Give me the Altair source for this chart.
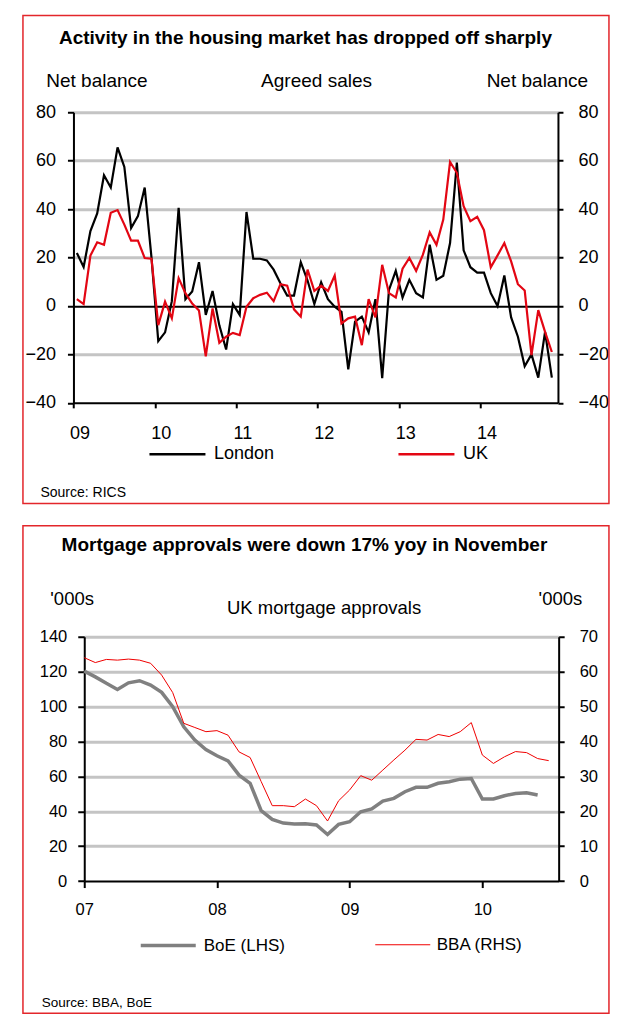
import altair as alt
import pandas as pd

# ---------------- data ----------------
# RICS agreed sales, net balance, monthly Jan 2009 - Nov 2014
london = [21.9, 16.1, 30.9, 38.2, 54.0, 48.9, 65.5, 57.4, 32.2, 37.1,
          48.9, 20.0, -14.5, -10.9, 2.0, 40.5, 2.8, 6.0, 18.1, -3.7,
          6.2, -8.0, -18.0, 0.8, -3.7, 38.8, 19.5, 19.5, 18.8, 15.0,
          9.4, 4.3, 4.3, 18.1, 10.5, 0.8, 9.8, 2.8, -0.3, -2.4,
          -26.2, -6.5, -4.4, -10.9, 2.8, -29.8, 6.6, 14.5, 3.5, 10.8,
          5.3, 3.5, 25.3, 10.8, 12.5, 26.0, 59.2, 23.0, 16.0, 13.8,
          13.8, 5.3, 0.0, 12.6, -4.7, -12.7, -24.9, -20.0, -29.6, -10.7, -29.6]
uk = [2.8, 0.8, 20.8, 26.3, 25.3, 38.5, 39.6, 33.6, 27.0, 27.0,
      19.8, 19.5, -7.9, 1.8, -5.1, 11.5, 5.3, 1.0, -1.9, -20.8,
      -1.0, -15.2, -12.7, -11.1, -12.0, -0.3, 3.2, 4.6, 5.5, 2.0,
      9.0, 8.4, -1.4, -4.4, 15.0, 6.2, 8.4, 6.2, 12.6, -7.2,
      -5.1, -4.4, -16.2, 2.8, -4.7, 17.0, 5.3, 3.5, 15.4, 19.8,
      14.5, 21.2, 30.4, 25.3, 35.7, 59.5, 55.0, 41.2, 35.0, 36.8,
      31.3, 16.0, 20.9, 26.0, 18.4, 9.0, 6.4, -20.3, -1.7, -10.7, -19.0]
top_series = ["London", "UK"]
top_years = ["09", "10", "11", "12", "13", "14"]

# UK mortgage approvals ('000s), monthly from Jan 2007
boe = [120.3, 117.0, 113.3, 109.8, 113.6, 114.8, 112.3, 108.1, 99.9, 88.4,
       80.8, 75.4, 71.8, 68.9, 60.7, 56.0, 40.3, 35.3, 33.2, 32.7,
       32.8, 32.1, 26.7, 32.5, 34.0, 39.7, 41.3, 45.8, 47.4, 51.2,
       53.7, 53.7, 56.0, 56.9, 58.4, 58.8, 47.0, 47.0, 48.9, 50.2,
       50.6, 49.3]
bba = [64.0, 62.6, 63.5, 63.3, 63.6, 63.3, 62.4, 59.0, 54.0, 45.2,
       44.0, 42.8, 43.1, 41.8, 37.0, 35.4, 28.5, 21.6, 21.6, 21.3,
       23.5, 21.6, 17.2, 23.0, 26.1, 30.2, 28.9, 31.8, 34.7, 37.5,
       40.6, 40.4, 42.0, 41.4, 42.8, 45.4, 36.1, 33.7, 35.6, 37.1,
       36.8, 35.1, 34.5]
bottom_series = ["BoE (LHS)", "BBA (RHS)"]
bottom_years = ["07", "08", "09", "10"]

# ---------------- tables ----------------
top_df = pd.DataFrame({
    "m": [i + 0.5 for i in range(len(london))] + [i + 0.5 for i in range(len(uk))],
    "value": london + uk,
    "series": [top_series[0]] * len(london) + [top_series[1]] * len(uk),
})
bot_df = pd.DataFrame({
    "m": list(range(len(boe))) + list(range(len(bba))),
    "value": boe + bba,
    "series": [bottom_series[0]] * len(boe) + [bottom_series[1]] * len(bba),
})
one = pd.DataFrame({"k": [0]})

FONT = "Liberation Sans, Arial, sans-serif"
FRAME = "#e3262b"
RED = "#e30613"
GRID = "#c4c4c4"
NOVIEW = alt.ViewBackground(stroke="transparent", strokeOpacity=0, strokeWidth=0)


def txt(text, x, y, size, weight="normal", align="center"):
    return alt.Chart(one).mark_text(
        text=text, font=FONT, fontSize=size, fontWeight=weight,
        align=align, baseline="middle", color="black"
    ).encode(x=alt.value(x), y=alt.value(y))


def frame(x1, x2, y1, y2):
    return alt.Chart(one).mark_rect(
        fill="white", fillOpacity=0, stroke=FRAME, strokeWidth=1.5
    ).encode(x=alt.value(x1), x2=alt.value(x2), y=alt.value(y1), y2=alt.value(y2))


def year_expr(years):
    return "[" + ",".join("'%s'" % y for y in years) + "][round(datum.value / 12)]"


axis_common = dict(
    title=None, domainColor="black", domainWidth=2, tickColor="black",
    tickWidth=2, labelColor="black", labelFont=FONT,
)

# ---------------- top chart ----------------
W1, H1 = 473.7, 290.6
x_top = alt.X(
    "m:Q",
    scale=alt.Scale(domain=[0, 71.4], range=[-10.8, W1], nice=False, zero=False),
    axis=alt.Axis(values=[0, 12, 24, 36, 48, 60], labelExpr=year_expr(top_years),
                  grid=False, tickSize=5, labelFontSize=18, labelPadding=17,
                  labelOffset=6, labelFlush=False, **axis_common),
)
y_top_scale = alt.Scale(domain=[-40, 80], nice=False, zero=False)
y_top_left = alt.Y(
    "value:Q", scale=y_top_scale,
    axis=alt.Axis(orient="left", values=list(range(-40, 81, 20)), offset=10.8,
                  grid=True,
                  gridColor={"condition": {"test": "datum.value === 0", "value": "black"}, "value": GRID},
                  gridWidth={"condition": {"test": "datum.value === 0", "value": 2}, "value": 3},
                  gridOpacity={"condition": {"test": "datum.value === -40", "value": 0}, "value": 1},
                  tickSize=6, labelFontSize=18, labelPadding=12, **axis_common),
)
y_top_right = alt.Y(
    "value:Q", scale=y_top_scale,
    axis=alt.Axis(orient="right", values=list(range(-40, 81, 20)), grid=False,
                  tickSize=5, labelFontSize=18, labelPadding=15, **axis_common),
)
leg_top = alt.Legend(
    title=None, orient="none", legendX=63.7, legendY=312.3, direction="horizontal",
    symbolType="stroke", symbolSize=3136, symbolStrokeWidth=2.5, labelFont=FONT,
    labelFontSize=18, labelColor="black", labelOffset=7, columnPadding=118, padding=0,
)
color_top = alt.Color("series:N", scale=alt.Scale(domain=top_series, range=["black", RED]),
                      legend=leg_top)

london_line = alt.Chart(top_df).transform_filter(
    alt.datum.series == top_series[0]
).mark_line(strokeWidth=2.2).encode(x=x_top, y=y_top_left, color=color_top)
uk_line = alt.Chart(top_df).transform_filter(
    alt.datum.series == top_series[1]
).mark_line(strokeWidth=2.2).encode(x=x_top, y=y_top_right, color=color_top)

top = alt.layer(
    frame(-61.3, 524.7, -96.7, 391.3),
    txt("Activity in the housing market has dropped off sharply", 221.2, -74.5, 19,
        weight="bold"),
    txt("Net balance", 12.7, -31.7, 19),
    txt("Agreed sales", 232.3, -31.7, 19),
    txt("Net balance", 453.1, -31.7, 19),
    txt("Source: RICS", -43.8, 380.8, 14, align="left"),
    london_line,
    uk_line,
).resolve_scale(y="independent").properties(width=W1, height=H1, view=NOVIEW)

# ---------------- bottom chart ----------------
W2, H2 = 474.4, 244.3
x_bot = alt.X(
    "m:Q",
    scale=alt.Scale(domain=[0, 42.9], nice=False, zero=False),
    axis=alt.Axis(values=[0, 12, 24, 36], labelExpr=year_expr(bottom_years),
                  grid=False, tickSize=6.5, labelFontSize=16.5, labelPadding=14,
                  labelFlush=False, **axis_common),
)
y_bot_left = alt.Y(
    "value:Q", scale=alt.Scale(domain=[0, 140], nice=False, zero=True),
    axis=alt.Axis(orient="left", values=list(range(0, 141, 20)), grid=True,
                  gridColor=GRID, gridWidth=3,
                  gridOpacity={"condition": {"test": "datum.value === 0", "value": 0}, "value": 1},
                  tickSize=6.5, labelFontSize=16.5, labelPadding=11, **axis_common),
)
y_bot_right = alt.Y(
    "value:Q", scale=alt.Scale(domain=[0, 70], nice=False, zero=True),
    axis=alt.Axis(orient="right", values=list(range(0, 71, 10)), grid=False,
                  tickSize=5.5, labelFontSize=16.5, labelPadding=15, **axis_common),
)
leg_bot = alt.Legend(
    title=None, orient="none", legendX=54.5, legendY=279, direction="horizontal",
    symbolType="stroke", symbolSize=3025, labelFont=FONT,
    labelFontSize=17, labelColor="black", labelOffset=6, columnPadding=87, padding=0,
)
color_bot = alt.Color("series:N", scale=alt.Scale(domain=bottom_series, range=["#808080", "#f00000"]),
                      legend=leg_bot)
width_bot = alt.StrokeWidth("series:N", scale=alt.Scale(domain=bottom_series, range=[3.5, 1]),
                            legend=leg_bot)

boe_line = alt.Chart(bot_df).transform_filter(
    alt.datum.series == bottom_series[0]
).mark_line().encode(x=x_bot, y=y_bot_left, color=color_bot, strokeWidth=width_bot)
bba_line = alt.Chart(bot_df).transform_filter(
    alt.datum.series == bottom_series[1]
).mark_line().encode(x=x_bot, y=y_bot_right, color=color_bot, strokeWidth=width_bot)

bottom = alt.layer(
    frame(-61.3, 524.7, -111.0, 376.5),
    txt("Mortgage approvals were down 17% yoy in November", 220.2, -92, 19,
        weight="bold"),
    txt("'000s", -12.1, -38, 18.5),
    txt("UK mortgage approvals", 239.8, -29, 18.5),
    txt("'000s", 476.2, -38, 18.5),
    txt("Source: BBA, BoE", -42.6, 366, 13.5, align="left"),
    boe_line,
    bba_line,
).resolve_scale(y="independent").properties(width=W2, height=H2, view=NOVIEW)

chart = alt.vconcat(top, bottom, spacing=19.5).resolve_scale(
    color="independent", strokeWidth="independent"
).resolve_legend(
    color="independent", strokeWidth="independent"
).properties(
    padding={"left": 13.25, "top": 6.25, "right": 0, "bottom": 0}
).configure_view(stroke="transparent", strokeWidth=0, strokeOpacity=0).configure_axis(
    gridColor="transparent"
).configure(background="white")

chart.save("out.html", embed_options={"renderer": "svg", "actions": False})
